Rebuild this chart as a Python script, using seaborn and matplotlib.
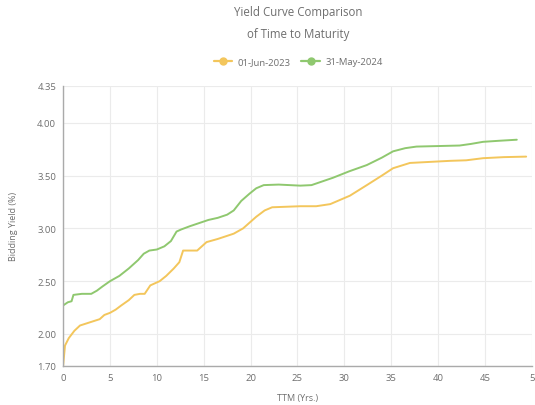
import numpy as np
import pandas as pd
import matplotlib.pyplot as plt
import seaborn as sns
from matplotlib.lines import Line2D

# yield curves
ttm_2023 = [0, 0.2, 0.6, 1.2, 1.8, 2.5, 3.2, 3.9, 4.4, 5.0, 5.6, 6.2, 7.0, 7.6, 8.2, 8.7,
            9.3, 10.3, 11.0, 11.8, 12.4, 12.8, 14.3, 15.3, 16.5, 18.2, 19.2, 20.6, 21.5,
            22.3, 25.3, 27.0, 28.5, 30.6, 32.4, 34.0, 35.2, 37.0, 41.3, 43.0, 44.8, 47.0, 49.4]
yield_2023 = [1.70, 1.89, 1.96, 2.03, 2.08, 2.10, 2.12, 2.14, 2.18, 2.20, 2.23, 2.27, 2.32,
              2.37, 2.38, 2.38, 2.46, 2.50, 2.55, 2.62, 2.68, 2.79, 2.79, 2.87, 2.90, 2.95,
              3.00, 3.11, 3.17, 3.20, 3.21, 3.21, 3.23, 3.31, 3.41, 3.50, 3.57, 3.62, 3.64,
              3.645, 3.665, 3.675, 3.68]

ttm_2024 = [0, 0.5, 0.9, 1.1, 2.0, 3.0, 3.6, 4.2, 5.0, 6.0, 7.0, 8.0, 8.6, 9.2, 10.0, 10.8,
            11.5, 12.1, 12.6, 13.5, 14.5, 15.5, 16.5, 17.5, 18.2, 19.0, 19.9, 20.6, 21.4,
            23.0, 25.3, 26.5, 28.8, 30.5, 32.4, 34.0, 35.2, 36.5, 37.7, 42.3, 43.5, 44.8,
            46.5, 48.4]
yield_2024 = [2.27, 2.30, 2.31, 2.37, 2.38, 2.38, 2.41, 2.45, 2.50, 2.55, 2.62, 2.70, 2.76,
              2.79, 2.80, 2.83, 2.88, 2.97, 2.99, 3.02, 3.05, 3.08, 3.10, 3.13, 3.17, 3.26,
              3.33, 3.38, 3.41, 3.415, 3.405, 3.41, 3.48, 3.54, 3.60, 3.67, 3.73, 3.76,
              3.775, 3.785, 3.80, 3.82, 3.83, 3.84]

series_names = ['01-Jun-2023', '31-May-2024']
colors = ['#f3c65c', '#8fc86f']
x_ticks = [0, 5, 10, 15, 20, 25, 30, 35, 40, 45, 50]
x_tick_labels = ['0', '5', '10', '15', '20', '25', '30', '35', '40', '45', '5']
y_ticks = [1.70, 2.00, 2.50, 3.00, 3.50, 4.00, 4.35]

df = pd.concat([
    pd.DataFrame({'ttm': ttm_2023, 'yield': yield_2023, 'date': series_names[0]}),
    pd.DataFrame({'ttm': ttm_2024, 'yield': yield_2024, 'date': series_names[1]}),
])

sns.set_style('white')
plt.rcParams['font.family'] = ['Open Sans', 'DejaVu Sans']
txt = '#6e6e6e'

fig = plt.figure(figsize=(5.35, 4.06), dpi=100)
ax = fig.add_axes([0.118, 0.097, 0.876, 0.689])

sns.lineplot(data=df, x='ttm', y='yield', hue='date', palette=colors,
             linewidth=1.4, legend=False, ax=ax, sort=False)

ax.set_xlim(0, 50)
ax.set_ylim(1.70, 4.35)
ax.set_xticks(x_ticks)
ax.set_xticklabels(x_tick_labels)
ax.set_yticks(y_ticks)
ax.set_yticklabels([f'{v:.2f}' for v in y_ticks])
ax.grid(True, color='#ebebeb', linewidth=0.8)
ax.tick_params(axis='both', colors='#999999', labelcolor=txt, labelsize=6.8,
               length=3, width=0.8, direction='out', pad=2)
for s in ['top', 'right']:
    ax.spines[s].set_visible(False)
for s in ['left', 'bottom']:
    ax.spines[s].set_color('#aaaaaa')
    ax.spines[s].set_linewidth(1.0)

ax.set_xlabel('TTM (Yrs.)', fontsize=6.5, color=txt, labelpad=8)
ax.set_ylabel('Bidding Yield (%)', fontsize=6.5, color=txt, labelpad=14)

fig.text(0.557, 0.943, 'Yield Curve Comparison\nof Time to Maturity', ha='center', va='center',
         fontsize=8.3, color=txt, linespacing=1.9)

handles = [Line2D([0], [0], color=c, linewidth=1.6, marker='o', markersize=5) for c in colors]
fig.legend(handles, series_names, loc='center', bbox_to_anchor=(0.557, 0.845), ncol=2,
           frameon=False, fontsize=6.8, labelcolor=txt, handlelength=2.0,
           columnspacing=1.2, handletextpad=0.5)

fig.savefig('out.png', dpi=100)
